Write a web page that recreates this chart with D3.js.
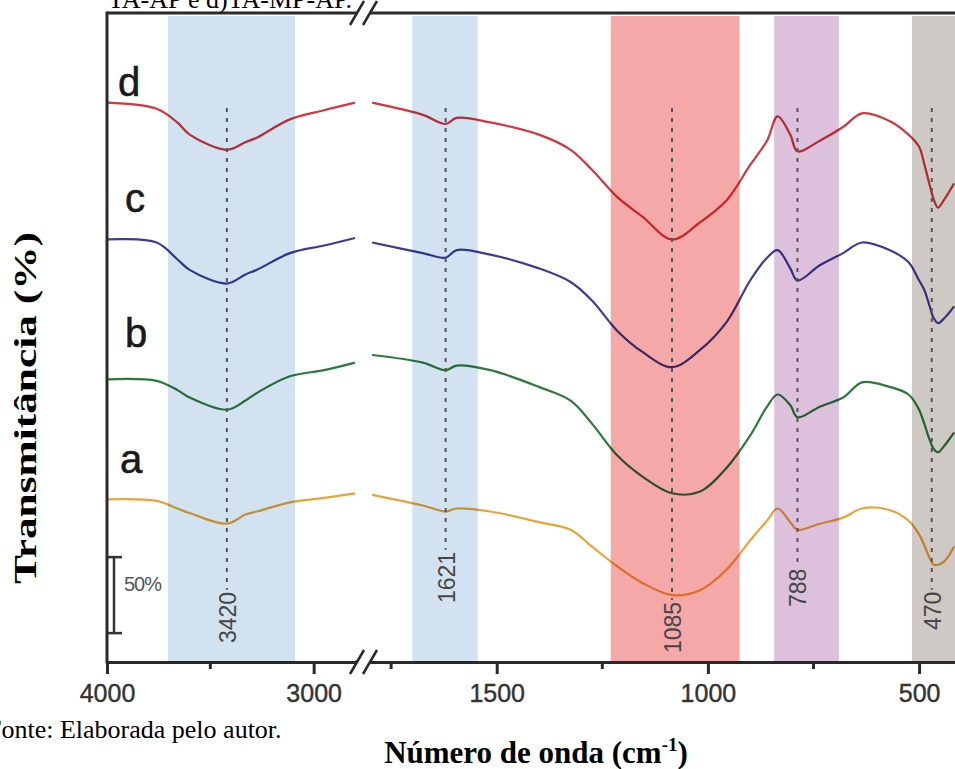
<!DOCTYPE html>
<html>
<head>
<meta charset="utf-8">
<script src="https://cdn.jsdelivr.net/npm/d3@7"></script>
<style>
  body { margin: 0; background: #fff; }
  svg { display: block; }
</style>
</head>
<body>
<svg id="ftir"></svg>
<script>
// wavenumbers (cm-1), left part of the broken axis and right part
const wavenumbersLeft = [4000, 3760, 3660, 3600, 3420, 3330, 3275, 3115, 2950, 2800];
const wavenumbersRight = [1795, 1675, 1621, 1595, 1515, 1400, 1325, 1275, 1215, 1155, 1085, 1020, 955, 900, 860, 835, 805, 788, 735, 680, 635, 570, 525, 500, 488, 476, 465, 455, 441, 417];

// transmittance (%, stacked with offsets as in the figure)
const dLeft = [368, 364, 355, 347, 337, 342, 345, 357, 363, 368];
const dRight = [368, 360, 354, 358, 355, 347, 337, 324, 306, 293, 278, 289, 304, 327, 343, 359, 347, 336, 343, 352, 361, 356, 347, 339, 328, 315, 304, 299, 304, 315];
const cLeft = [278, 276, 265, 258, 249, 255, 258, 269, 274, 279];
const cRight = [276, 269, 266, 271, 268, 259, 250, 238, 218, 204, 194, 205, 224, 251, 266, 271, 259, 251, 261, 269, 276, 271, 263, 251, 245, 235, 226, 223, 226, 234];
const bLeft = [186, 185, 179, 174, 166, 172, 177, 188, 192, 197];
const bRight = [202, 197, 192, 195, 192, 181, 172, 157, 136, 122, 111, 112, 128, 149, 168, 176, 169, 161, 168, 174, 184, 181, 176, 166, 157, 147, 140, 138, 142, 151];
const aLeft = [107, 106, 101, 98, 91, 97, 99, 105, 108, 111];
const aRight = [110, 103, 99, 101, 99, 92, 87, 76, 63, 52, 44, 47, 61, 80, 93, 101, 92, 87, 91, 95, 101, 100, 93, 84, 77, 69, 64, 64, 66, 76];

const seriesNames = ["d", "c", "b", "a"];
const seriesColors = ["#d3363c", "#3c3c96", "#2c7a3a", "#eba23a"];

// shaded absorption regions [from, to] cm-1
const bands = [[3705, 3090], [1700, 1545], [1230, 925], [843, 690], [517, 400]];
const bandColors = ["#d3e2f1", "#d3e2f1", "#f4a8a7", "#dcc0dc", "#cfc9c5"];

const peaks = [3420, 1621, 1085, 788, 470];
const peakLabelBottom = [643, 603, 653, 607, 630];

const ticksLeft = [4000, 3000], minorLeft = [3500];
const ticksRight = [1500, 1000, 500], minorRight = [1750, 1250, 750];
const scaleBar = [19, 69]; // 50 %

const W = 955, H = 769;
const plot = { left: 107, top: 13, bottom: 662, right: 955, breakL: 355, breakR: 370 };

const svg = d3.select("#ftir").attr("width", W).attr("height", H);
svg.append("rect").attr("width", W).attr("height", H).attr("fill", "#fff");

const xLeft = d3.scaleLinear().domain([4000, 2800]).range([plot.left, plot.breakL]);
const xRight = d3.scaleLinear().domain([1800, 415]).range([plot.breakR, plot.right]);
const xAt = v => v >= 2000 ? xLeft(v) : xRight(v);
const y = d3.scaleLinear().domain([0, 427]).range([plot.bottom, plot.top]);

svg.append("clipPath").attr("id", "plotclip")
	.append("rect")
	.attr("x", plot.left).attr("y", plot.top)
	.attr("width", plot.right - plot.left).attr("height", plot.bottom - plot.top);

const inner = svg.append("g").attr("clip-path", "url(#plotclip)");

// spectra
const line = d3.line()
	.x(d => xAt(d[0]))
	.y(d => y(d[1]))
	.curve(d3.curveCatmullRom.alpha(0.5));

const leftData = [dLeft, cLeft, bLeft, aLeft];
const rightData = [dRight, cRight, bRight, aRight];

seriesNames.forEach((name, i) => {
	[[wavenumbersLeft, leftData[i]], [wavenumbersRight, rightData[i]]].forEach(([wn, vals]) => {
		inner.append("path")
			.datum(wn.map((w, j) => [w, vals[j]]))
			.attr("d", line)
			.attr("fill", "none")
			.attr("stroke", seriesColors[i])
			.attr("stroke-width", 2.2)
			.attr("stroke-linejoin", "round");
	});
});

// bands on top, multiplied
inner.selectAll(".band")
	.data(bands)
	.enter().append("rect")
	.attr("class", "band")
	.attr("x", d => xAt(d[0]))
	.attr("width", d => xAt(d[1]) - xAt(d[0]))
	.attr("y", plot.top + 3)
	.attr("height", plot.bottom - plot.top - 4)
	.attr("fill", (d, i) => bandColors[i])
	.style("mix-blend-mode", "multiply");

// peak markers
const peakG = svg.append("g");
peaks.forEach((p, i) => {
	const px = xAt(p);
	const lbl = peakG.append("text")
		.attr("transform", `translate(${px + 1},${peakLabelBottom[i]}) rotate(-90)`)
		.attr("dominant-baseline", "central")
		.attr("font-family", "Arial, 'Liberation Sans', sans-serif")
		.attr("font-size", 23)
		.attr("fill", "#474747")
		.text(p);
	const len = lbl.node().getComputedTextLength();
	peakG.append("line")
		.attr("x1", px).attr("x2", px)
		.attr("y1", 108).attr("y2", peakLabelBottom[i] - len - 2)
		.attr("stroke", "#555")
		.attr("stroke-width", 2)
		.attr("stroke-dasharray", "4,6");
});

// series letters
const letterPos = [[118, 96], [125, 212], [125, 347], [120, 473]];
seriesNames.forEach((name, i) => {
	svg.append("text")
		.attr("x", letterPos[i][0]).attr("y", letterPos[i][1])
		.attr("font-family", "Arial, 'Liberation Sans', sans-serif")
		.attr("font-size", 40)
		.attr("fill", "#1a1a1a")
		.attr("stroke", "#1a1a1a")
		.attr("stroke-width", 0.6)
		.text(name);
});

// 50 % scale bar
const sb = svg.append("g").attr("stroke", "#333").attr("stroke-width", 2.5);
sb.append("line").attr("x1", 114).attr("x2", 114).attr("y1", y(scaleBar[0])).attr("y2", y(scaleBar[1]));
sb.append("line").attr("x1", 108).attr("x2", 122).attr("y1", y(scaleBar[0])).attr("y2", y(scaleBar[0]));
sb.append("line").attr("x1", 108).attr("x2", 122).attr("y1", y(scaleBar[1])).attr("y2", y(scaleBar[1]));
svg.append("text")
	.attr("x", 124).attr("y", y((scaleBar[0] + scaleBar[1]) / 2) - 4)
	.attr("font-family", "Arial, 'Liberation Sans', sans-serif")
	.attr("font-size", 20)
	.attr("letter-spacing", -1)
	.attr("fill", "#555")
	.text((scaleBar[1] - scaleBar[0]) + "%");

// axes
function drawAxis(scale, major, minor) {
	const g = svg.append("g").attr("transform", `translate(0,${plot.bottom})`);
	g.call(d3.axisBottom(scale).tickValues(major).tickFormat(d3.format("d"))
			.tickSize(12).tickSizeOuter(0).tickPadding(10))
		.call(a => a.select(".domain").attr("stroke", "#2a2a2a").attr("stroke-width", 3))
		.call(a => a.selectAll(".tick line").attr("stroke", "#2a2a2a").attr("stroke-width", 3))
		.call(a => a.selectAll(".tick text")
			.attr("font-family", "Arial, 'Liberation Sans', sans-serif")
			.attr("font-size", 25)
			.attr("fill", "#333")
			.attr("stroke", "#333")
			.attr("stroke-width", 0.4));
	g.selectAll(".minor")
		.data(minor)
		.enter().append("line")
		.attr("x1", scale).attr("x2", scale)
		.attr("y1", 0).attr("y2", 7)
		.attr("stroke", "#2a2a2a").attr("stroke-width", 3);
}
drawAxis(xLeft, ticksLeft, minorLeft);
drawAxis(xRight, ticksRight, minorRight);

// bottom axis across break, left axis and top frame
const frame = svg.append("g").attr("stroke", "#2a2a2a").attr("stroke-width", 3).attr("fill", "none");
frame.append("line").attr("x1", plot.breakL).attr("x2", plot.breakR).attr("y1", plot.bottom).attr("y2", plot.bottom);
frame.append("line").attr("x1", plot.left).attr("x2", plot.left).attr("y1", plot.top - 1.5).attr("y2", plot.bottom + 1.5);
frame.append("line").attr("x1", plot.left).attr("x2", plot.right).attr("y1", plot.top).attr("y2", plot.top);

// break marks
[plot.top, plot.bottom].forEach(yy => {
	svg.append("polygon")
		.attr("points", `350,${yy + 12} 363,${yy - 12} 377,${yy - 12} 364,${yy + 12}`)
		.attr("fill", "#fff");
	[350, 363].forEach(bx => {
		svg.append("line")
			.attr("x1", bx).attr("y1", yy + 12)
			.attr("x2", bx + 14).attr("y2", yy - 12)
			.attr("stroke", "#2a2a2a").attr("stroke-width", 2.5);
	});
});

// titles
svg.append("text")
	.attr("transform", `translate(36,408) rotate(-90)`)
	.attr("text-anchor", "middle")
	.attr("font-family", "'Liberation Serif', 'Times New Roman', serif")
	.attr("font-weight", "bold")
	.attr("font-size", 32)
	.attr("textLength", 352)
	.attr("lengthAdjust", "spacingAndGlyphs")
	.text("Transmitância (%)");

const xt = svg.append("text")
	.attr("x", 536).attr("y", 763)
	.attr("text-anchor", "middle")
	.attr("font-family", "'Liberation Serif', 'Times New Roman', serif")
	.attr("font-weight", "bold")
	.attr("font-size", 31);
xt.append("tspan").text("Número de onda (cm");
xt.append("tspan").attr("dy", -12).attr("font-size", 19).text("-1");
xt.append("tspan").attr("dy", 12).text(")");

svg.append("text")
	.attr("x", -13).attr("y", 738)
	.attr("font-family", "'Liberation Serif', 'Times New Roman', serif")
	.attr("font-size", 26)
	.text("Fonte: Elaborada pelo autor.");

svg.append("text")
	.attr("x", 108).attr("y", 8)
	.attr("font-family", "'Liberation Serif', 'Times New Roman', serif")
	.attr("font-size", 26)
	.text("TA-AP e d)TA-MP-AP.");
</script>
</body>
</html>
